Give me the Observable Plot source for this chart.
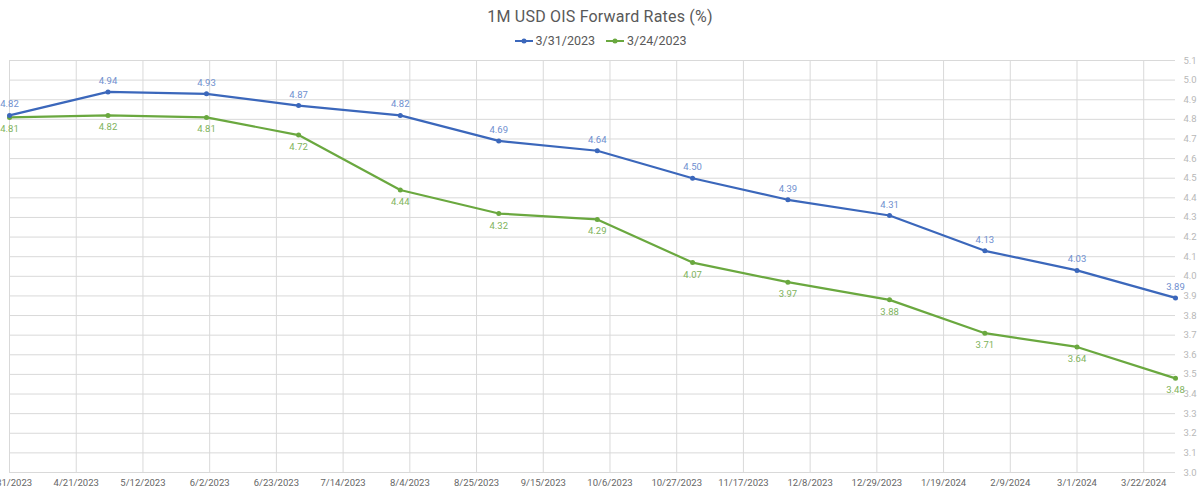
<!DOCTYPE html>
<html>
<head>
<meta charset="utf-8">
<script src="https://cdn.jsdelivr.net/npm/d3@7"></script>
<script src="https://cdn.jsdelivr.net/npm/@observablehq/plot@0.6"></script>
<style>
  html, body { margin: 0; padding: 0; background: #fff; overflow: hidden; }
  body { width: 1200px; height: 492px; font-family: Roboto, "DejaVu Sans", sans-serif; }
  #header { height: 50px; position: relative; }
  #title { position: absolute; top: 7px; left: 0; width: 1200px; text-align: center;
           font-size: 16px; color: #595959; letter-spacing: 0.2px; }
  #legend { position: absolute; top: 33px; left: 0; width: 1200px; display: flex;
            justify-content: center; gap: 10px; font-size: 12.5px; color: #595959; }
  .item { display: flex; align-items: center; gap: 2px; }
  .item svg { display: block; }
</style>
</head>
<body>
<div id="header">
  <div id="title">1M USD OIS Forward Rates (%)</div>
  <div id="legend"></div>
</div>
<div id="chart"></div>
<script>
// Observation dates of the monthly forward points
const dates = [
  "2023-03-31", "2023-05-01", "2023-06-01", "2023-06-30", "2023-08-01",
  "2023-09-01", "2023-10-02", "2023-11-01", "2023-12-01", "2024-01-02",
  "2024-02-01", "2024-03-01", "2024-04-01"
];
// Curve as of 3/31/2023
const rates0331 = [4.82, 4.94, 4.93, 4.87, 4.82, 4.69, 4.64, 4.50, 4.39, 4.31, 4.13, 4.03, 3.89];
// Curve as of 3/24/2023
const rates0324 = [4.81, 4.82, 4.81, 4.72, 4.44, 4.32, 4.29, 4.07, 3.97, 3.88, 3.71, 3.64, 3.48];

const seriesNames = ["3/31/2023", "3/24/2023"];
const seriesLine = ["#3b67bb", "#6aa83f"];
const seriesLabel = ["#6f8fcf", "#80b35c"];

// Axis ticks
const xTickLabels = [
  "3/31/2023", "4/21/2023", "5/12/2023", "6/2/2023", "6/23/2023", "7/14/2023",
  "8/4/2023", "8/25/2023", "9/15/2023", "10/6/2023", "10/27/2023", "11/17/2023",
  "12/8/2023", "12/29/2023", "1/19/2024", "2/9/2024", "3/1/2024", "3/22/2024"
];
const yTicks = [3.0, 3.1, 3.2, 3.3, 3.4, 3.5, 3.6, 3.7, 3.8, 3.9, 4.0,
                4.1, 4.2, 4.3, 4.4, 4.5, 4.6, 4.7, 4.8, 4.9, 5.0, 5.1];

const parseMDY = d3.utcParse("%m/%d/%Y");
const xTicks = xTickLabels.map(parseMDY);
const fmtMDY = d => `${d.getUTCMonth() + 1}/${d.getUTCDate()}/${d.getUTCFullYear()}`;

const rows = (vals, i) => vals.map((v, k) => ({
  date: d3.utcParse("%Y-%m-%d")(dates[k]), value: v, series: seriesNames[i]
}));
const s0 = rows(rates0331, 0);
const s1 = rows(rates0324, 1);

const chart = Plot.plot({
  width: 1200,
  height: 442,
  marginTop: 10,
  marginBottom: 20,
  marginLeft: 9,
  marginRight: 25,
  style: { fontFamily: "Roboto, 'DejaVu Sans', sans-serif", background: "#fff" },
  x: { type: "utc", domain: [s0[0].date, s0[s0.length - 1].date] },
  y: { domain: [3.0, 5.1] },
  marks: [
    Plot.gridY(yTicks, { stroke: "#d9d9d9", strokeOpacity: 1, strokeWidth: 1 }),
    Plot.gridX(xTicks, { stroke: "#d9d9d9", strokeOpacity: 1, strokeWidth: 1 }),
    Plot.axisY({ ticks: yTicks, anchor: "right", tickSize: 0, tickPadding: 8,
                 tickFormat: d3.format(".1f"), label: null, fill: "#b8b8b8", fontSize: 9.5 }),
    Plot.axisX({ ticks: xTicks, tickSize: 0, tickPadding: 7, tickFormat: fmtMDY,
                 label: null, fill: "#666", fontSize: 9.5 }),
    Plot.line(s1, { x: "date", y: "value", stroke: seriesLine[1], strokeWidth: 2.2 }),
    Plot.line(s0, { x: "date", y: "value", stroke: seriesLine[0], strokeWidth: 2.2 }),
    Plot.dot(s1, { x: "date", y: "value", fill: seriesLine[1], r: 2.5 }),
    Plot.dot(s0, { x: "date", y: "value", fill: seriesLine[0], r: 2.5 }),
    Plot.text(s0, { x: "date", y: "value", text: d => d.value.toFixed(2), dy: -11,
                    fill: seriesLabel[0], fontSize: 9.5 }),
    Plot.text(s1, { x: "date", y: "value", text: d => d.value.toFixed(2), dy: 12,
                    fill: seriesLabel[1], fontSize: 9.5 })
  ]
});
document.getElementById("chart").appendChild(chart);

// Legend: line-with-marker swatch followed by the series name
const legend = d3.select("#legend");
seriesNames.forEach((name, i) => {
  const item = legend.append("div").attr("class", "item");
  const sw = item.append("svg").attr("width", 20).attr("height", 10);
  sw.append("line").attr("x1", 1).attr("x2", 19).attr("y1", 5).attr("y2", 5)
    .attr("stroke", seriesLine[i]).attr("stroke-width", 2);
  sw.append("circle").attr("cx", 10).attr("cy", 5).attr("r", 2.5).attr("fill", seriesLine[i]);
  item.append("span").text(name);
});
</script>
</body>
</html>
